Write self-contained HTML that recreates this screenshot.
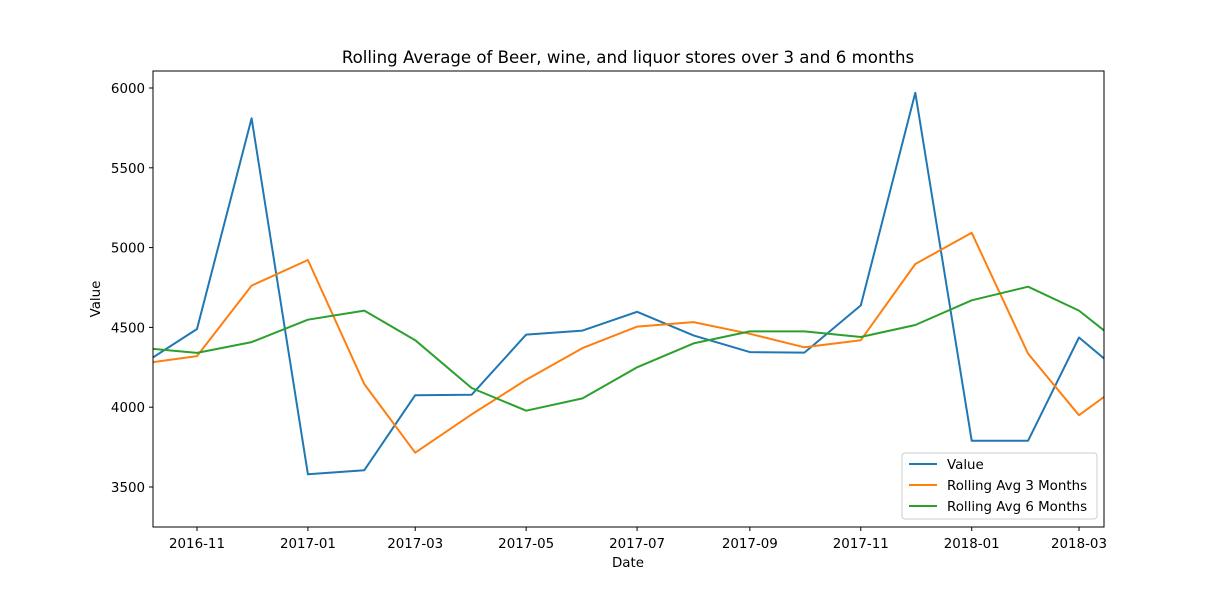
<!DOCTYPE html>
<html><head><meta charset="utf-8"><style>
body{margin:0;background:#fff;font-family:"Liberation Sans","DejaVu Sans",sans-serif}
svg text{font-family:"DejaVu Sans","Liberation Sans",sans-serif}
</style></head><body>
<svg id="chart" width="1227" height="592" xmlns="http://www.w3.org/2000/svg">
<rect width="1227" height="592" fill="#fff"/>
<defs><clipPath id="clip"><rect x="153" y="71" width="951" height="456"/></clipPath></defs>
<text x="628" y="63" text-anchor="middle" font-size="16.6">Rolling Average of Beer, wine, and liquor stores over 3 and 6 months</text>
<g id="axes"></g>
<g id="series" clip-path="url(#clip)"></g>
<rect x="153" y="71" width="951" height="456" fill="none" stroke="#000" stroke-width="1"/>
<text x="628" y="567" text-anchor="middle" font-size="13.4">Date</text>
<text transform="translate(100,299) rotate(-90)" text-anchor="middle" font-size="13.4">Value</text>
<g>
<rect x="902" y="453" width="195" height="66" rx="3" fill="#fff" fill-opacity="0.8" stroke="#ccc"/>
<line x1="909" y1="464" x2="937" y2="464" stroke="#1f77b4" stroke-width="2"/>
<text x="947" y="469" font-size="13.4">Value</text>
<line x1="909" y1="485" x2="937" y2="485" stroke="#ff7f0e" stroke-width="2"/>
<text x="947" y="490" font-size="13.4">Rolling Avg 3 Months</text>
<line x1="909" y1="506" x2="937" y2="506" stroke="#2ca02c" stroke-width="2"/>
<text x="947" y="511" font-size="13.4">Rolling Avg 6 Months</text>
</g>
</svg>
<script>
const dates=["2016-10-01","2016-11-01","2016-12-01","2017-01-01","2017-02-01","2017-03-01","2017-04-01","2017-05-01","2017-06-01","2017-07-01","2017-08-01","2017-09-01","2017-10-01","2017-11-01","2017-12-01","2018-01-01","2018-02-01","2018-03-01","2018-04-01"];
const valueSeries=[4261,4490,5810,3580,3605,4075,4078,4455,4480,4598,4450,4345,4342,4638,5970,3790,3790,4437,4141];
const roll3Series=[4272,4320,4762,4922,4145,3715,3955,4172,4370,4505,4533,4460,4375,4420,4897,5093,4335,3950,4208];
const roll6Series=[4372,4340,4408,4548,4605,4420,4120,3978,4055,4250,4400,4475,4475,4440,4515,4670,4755,4605,4325];
const xTicks=["2016-11","2017-01","2017-03","2017-05","2017-07","2017-09","2017-11","2018-01","2018-03"];
const yTicks=[3500,4000,4500,5000,5500,6000];
const NS="http://www.w3.org/2000/svg";
const t0=Date.UTC(2016,10,1),t1=Date.UTC(2018,2,1);
function xs(d){const p=d.split("-");const t=Date.UTC(+p[0],+p[1]-1,p[2]?+p[2]:1);return 197+(t-t0)/(t1-t0)*882;}
function ys(v){return 88+(6000-v)*(399/2500);}
function el(tag,attrs,parent){const e=document.createElementNS(NS,tag);for(const k in attrs)e.setAttribute(k,attrs[k]);parent.appendChild(e);return e;}
const axes=document.getElementById("axes"),series=document.getElementById("series");
xTicks.forEach(t=>{const x=xs(t);
 const l=el("line",{x1:x,x2:x,y1:527,y2:531,stroke:"#000"},axes);
 
 
 const tx=el("text",{x:x,y:548,"text-anchor":"middle","font-size":"13.4"},axes);tx.textContent=t;
 
 
});
yTicks.forEach(v=>{const y=ys(v);
 const l=el("line",{x1:149,x2:153,y1:y,y2:y,stroke:"#000"},axes);
 
 
 const tx=el("text",{x:145,y:y+5,"text-anchor":"end","font-size":"13.4"},axes);tx.textContent=v;
 
 
});
[[valueSeries,"#1f77b4","value-line"],[roll3Series,"#ff7f0e","rolling-3-line"],[roll6Series,"#2ca02c","rolling-6-line"]].forEach(([s,c,n])=>{
 const pts=s.map((v,i)=>xs(dates[i]).toFixed(1)+","+ys(v).toFixed(1)).join(" ");
 const p=el("polyline",{points:pts,fill:"none",stroke:c,"stroke-width":"2","stroke-linejoin":"round"},series);
 
 
});
</script>
</body></html>
